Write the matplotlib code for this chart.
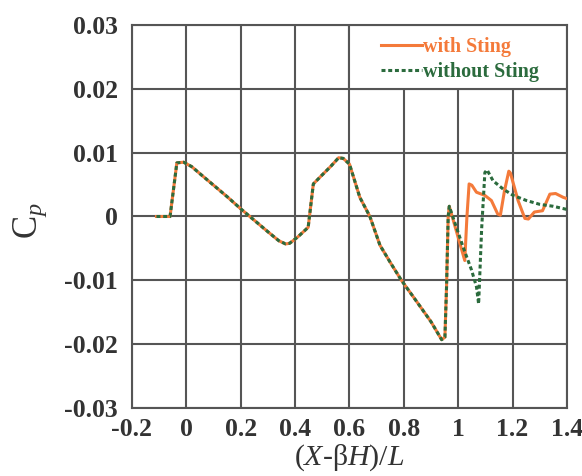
import matplotlib
matplotlib.use("Agg")
import matplotlib.pyplot as plt
from matplotlib.patches import Rectangle

plt.rcParams["font.family"] = ["Liberation Serif", "DejaVu Serif"]
plt.rcParams["mathtext.fontset"] = "custom"
plt.rcParams["mathtext.rm"] = "Liberation Serif"
plt.rcParams["mathtext.it"] = "Liberation Serif:italic"

# Pressure coefficient along the body, with and without the support sting
x_with = [-0.11, -0.06, -0.035, -0.01, 0.02, 0.05, 0.10, 0.15, 0.20, 0.25, 0.30,
          0.34, 0.365, 0.38, 0.41, 0.448, 0.467, 0.497, 0.53, 0.56, 0.577, 0.60,
          0.638, 0.675, 0.712, 0.75, 0.791, 0.85, 0.90, 0.939, 0.951, 0.957,
          0.963, 0.967, 1.024, 1.032, 1.040, 1.05, 1.067, 1.098, 1.122, 1.145,
          1.155, 1.17, 1.186, 1.192, 1.22, 1.245, 1.258, 1.28, 1.31, 1.337,
          1.358, 1.386, 1.40]
cp_with = [0.0, 0.0, 0.0084, 0.0085, 0.0078, 0.0067, 0.0049, 0.0031, 0.0012,
           -0.0006, -0.0024, -0.0038, -0.0043, -0.0042, -0.0032, -0.0017,
           0.0051, 0.0064, 0.0078, 0.0092, 0.0091, 0.0082, 0.0030, 0.0,
           -0.0045, -0.0072, -0.0100, -0.0135, -0.0165, -0.0193, -0.0189,
           -0.0110, 0.0, 0.0016, -0.0069, 0.0, 0.0051, 0.0049, 0.0038, 0.0033,
           0.0025, 0.0004, 0.0002, 0.0040, 0.0071, 0.0068, 0.0025, -0.0003,
           -0.0004, 0.0007, 0.0009, 0.0035, 0.0036, 0.0030, 0.0028]

x_without = [-0.11, -0.06, -0.035, -0.01, 0.02, 0.05, 0.10, 0.15, 0.20, 0.25,
             0.30, 0.34, 0.365, 0.38, 0.41, 0.448, 0.467, 0.497, 0.53, 0.56,
             0.577, 0.60, 0.638, 0.675, 0.712, 0.75, 0.791, 0.85, 0.90, 0.939,
             0.951, 0.957, 0.963, 0.967, 1.018, 1.049, 1.067, 1.075, 1.086,
             1.098, 1.106, 1.128, 1.165, 1.202, 1.251, 1.30, 1.349, 1.40]
cp_without = [0.0, 0.0, 0.0084, 0.0085, 0.0078, 0.0067, 0.0049, 0.0031, 0.0012,
              -0.0006, -0.0024, -0.0038, -0.0043, -0.0042, -0.0032, -0.0017,
              0.0051, 0.0064, 0.0078, 0.0092, 0.0091, 0.0082, 0.0030, 0.0,
              -0.0045, -0.0072, -0.0100, -0.0135, -0.0165, -0.0193, -0.0189,
              -0.0110, 0.0, 0.0016, -0.0048, -0.0084, -0.0110, -0.0137,
              -0.0020, 0.0069, 0.0073, 0.0056, 0.0043, 0.0033, 0.0025, 0.0019,
              0.0016, 0.0011]

x_ticks = [-0.2, 0, 0.2, 0.4, 0.6, 0.8, 1.0, 1.2, 1.4]
x_tick_labels = ["-0.2", "0", "0.2", "0.4", "0.6", "0.8", "1", "1.2", "1.4"]
y_ticks = [-0.03, -0.02, -0.01, 0, 0.01, 0.02, 0.03]
y_tick_labels = ["-0.03", "-0.02", "-0.01", "0", "0.01", "0.02", "0.03"]

ORANGE = "#F47A3A"
GREEN = "#2B6B3D"
GRID = "#555555"

fig = plt.figure(figsize=(5.82, 4.76), dpi=100)
ax = fig.add_axes([0.2268, 0.1429, 0.7474, 0.8046])

ax.plot(x_with, cp_with, color=ORANGE, lw=2.2, label="with Sting", zorder=3)
ax.plot(x_without, cp_without, color=GREEN, lw=2.2, ls=(0, (1.3, 0.9)),
        label="without Sting", zorder=4)

ax.set_xlim(-0.2, 1.4)
ax.set_ylim(-0.03, 0.03)
ax.set_xticks(x_ticks)
ax.set_xticklabels(x_tick_labels)
ax.set_yticks(y_ticks)
ax.set_yticklabels(y_tick_labels)
ax.tick_params(length=0, labelsize=18.5, colors="#333333")
ax.tick_params(axis="y", pad=10)
ax.tick_params(axis="x", pad=7)
for lab in ax.get_xticklabels() + ax.get_yticklabels():
    lab.set_fontweight("bold")

ax.set_axisbelow(True)
ax.grid(True, color=GRID, lw=1.5)
for sp in ax.spines.values():
    sp.set_color(GRID)
    sp.set_linewidth(1.5)

# legend panel occupying the upper-right grid cells
ax.add_patch(Rectangle((0.5, 5 / 6), 0.5, 1 / 6, transform=ax.transAxes,
                       facecolor="white", edgecolor=GRID, lw=1.5, zorder=1))
leg = ax.legend(loc="center left", bbox_to_anchor=(0.572, 0.91), frameon=False,
                fontsize=14.5, handlelength=2.05, handletextpad=0.05,
                borderpad=0, borderaxespad=0, labelspacing=0.22,
                labelcolor="linecolor")
for t in leg.get_texts():
    t.set_fontweight("bold")

ax.set_xlabel(r"$(X$" + "-β" + r"$H)/L$", fontsize=21.5, labelpad=1, color="#333333")
ax.set_ylabel(r"$\mathrm{C}_{p}$", fontsize=25, color="#333333")
ax.yaxis.set_label_coords(-0.19, 0.49)

fig.savefig("out.png", dpi=100)
